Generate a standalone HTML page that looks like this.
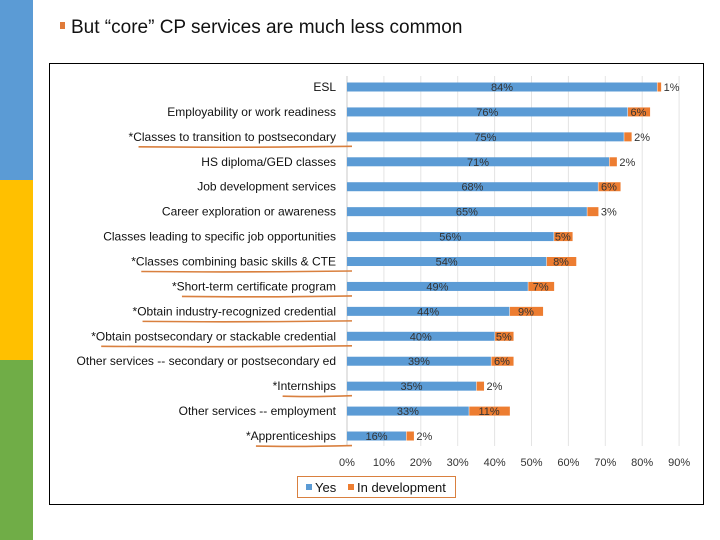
<!DOCTYPE html>
<html><head><meta charset="utf-8"><style>
body{margin:0;width:720px;height:540px;background:#fff;font-family:"Liberation Sans",sans-serif;overflow:hidden;position:relative}
.sb{position:absolute;left:0;width:33px}
</style></head><body>
<div class="sb" style="top:0;height:180px;background:#5b9bd5"></div>
<div class="sb" style="top:180px;height:180px;background:#ffc000"></div>
<div class="sb" style="top:360px;height:180px;background:#70ad47"></div>
<div style="position:absolute;left:60px;top:17px;font-size:19px;color:#111"><span style="display:inline-block;width:5px;height:7px;background:#e07b39;margin-right:6px;vertical-align:4px"></span>But “core” CP services are much less common</div>
<svg id="c" width="720" height="540" style="position:absolute;left:0;top:0"></svg>
<script>
const categories=["ESL","Employability or work readiness","*Classes to transition to postsecondary","HS diploma/GED  classes","Job development services","Career exploration or awareness","Classes leading to specific job opportunities","*Classes combining basic skills & CTE","*Short-term certificate program","*Obtain industry-recognized credential","*Obtain postsecondary or stackable credential","Other services -- secondary or postsecondary ed","*Internships","Other services -- employment","*Apprenticeships"];
const yesValues=[84,76,75,71,68,65,56,54,49,44,40,39,35,33,16];
const devValues=[1,6,2,2,6,3,5,8,7,9,5,6,2,11,2];
const xTicks=[0,10,20,30,40,50,60,70,80,90];
const NS="http://www.w3.org/2000/svg";
const svg=document.getElementById('c');
const x0=347,pxPer=3.69,y0=87,step=24.93,bh=9;
const X=v=>x0+v*pxPer, Y=i=>y0+i*step;
function mk(t,a){const e=document.createElementNS(NS,t);for(const k in a)e.setAttribute(k,a[k]);svg.appendChild(e);return e;}
const box=mk('rect',{x:49.5,y:63.5,width:654,height:441,fill:'none',stroke:'#000','stroke-width':1});


xTicks.forEach(t=>{
 const g=mk('line',{x1:X(t),x2:X(t),y1:76,y2:446,stroke:t?'#e4e4e4':'#c8c8c8'});
 
 
 const l=mk('text',{x:X(t),y:466,'text-anchor':'middle','font-size':11,fill:'#333'});l.textContent=t+'%';
 
 
});
categories.forEach((c,i)=>{
 const y=Y(i);
 const t=mk('text',{x:336,y:y+4,'text-anchor':'end','font-size':12,fill:'#111'});t.textContent=c;
 
 
 if(c[0]==='*'){
  const w=t.getComputedTextLength();
  const u=mk('path',{d:`M${336-w+10} ${y+10} Q${(336-w+350)/2} ${y+11} 352 ${y+9.5}`,stroke:'#d9803f','stroke-width':1.6,fill:'none'});
  
  
 }
 const b=mk('rect',{x:X(0),y:y-bh/2,width:X(yesValues[i])-X(0),height:bh,fill:'#5b9bd5'});
 
 
 const d=mk('rect',{x:X(yesValues[i])+0.5,y:y-bh/2,width:X(devValues[i])-X(0),height:bh,fill:'#ed7d31'});
 
 
 const ly=mk('text',{x:(X(0)+X(yesValues[i]))/2,y:y+4,'text-anchor':'middle','font-size':11,fill:'#333'});ly.textContent=yesValues[i]+'%';
 
 
 const dx=devValues[i]>=5?X(yesValues[i]+devValues[i]/2):X(yesValues[i]+devValues[i])+3;
 const ld=mk('text',{x:dx,y:y+4,'text-anchor':devValues[i]>=5?'middle':'start','font-size':11,fill:'#333'});ld.textContent=devValues[i]+'%';
 
 
});
const lg=mk('rect',{x:297.5,y:476.5,width:158,height:21,fill:'#fff',stroke:'#d9803f'});


const s1=mk('rect',{x:306,y:484,width:6,height:6,fill:'#5b9bd5'});


const t1=mk('text',{x:315,y:492,'font-size':13,fill:'#111'});t1.textContent='Yes';


const s2=mk('rect',{x:348,y:484,width:6,height:6,fill:'#ed7d31'});


const t2=mk('text',{x:357,y:492,'font-size':13,fill:'#111'});t2.textContent='In development';


</script>
</body></html>
